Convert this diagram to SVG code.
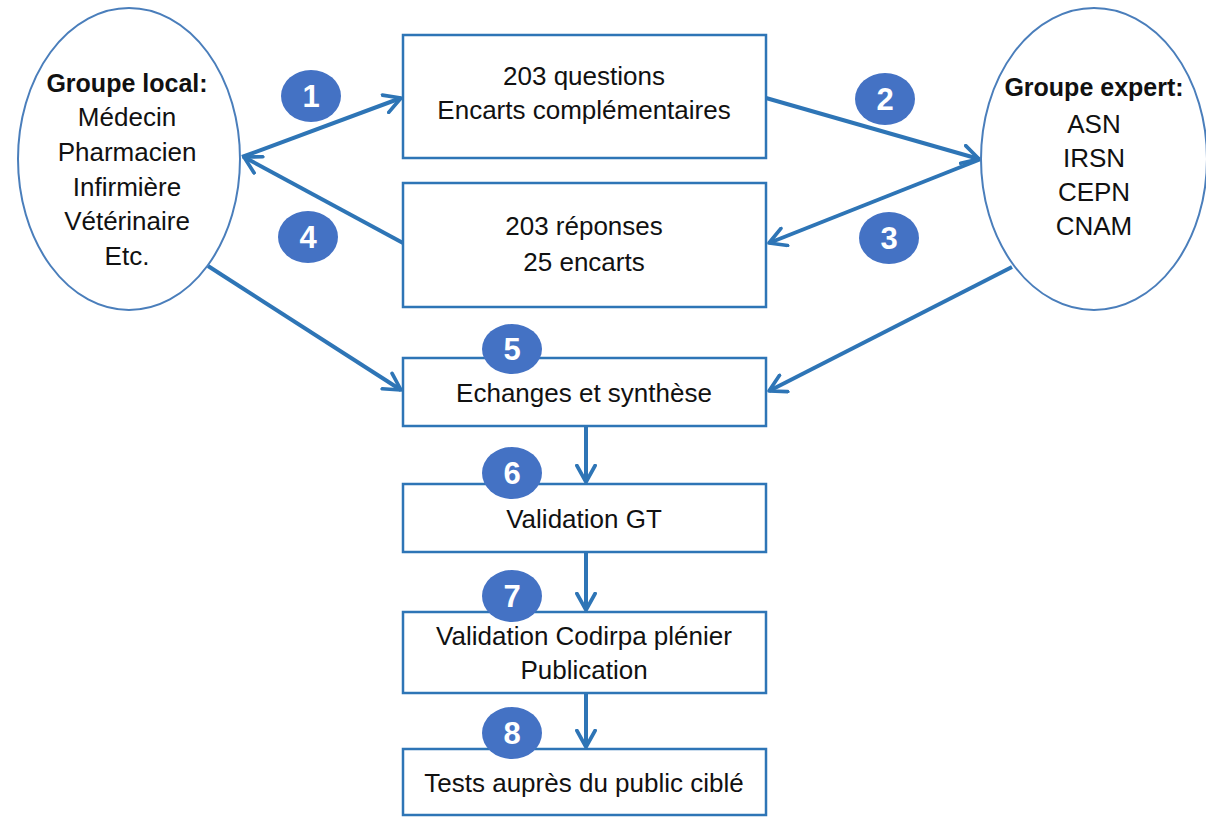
<svg xmlns="http://www.w3.org/2000/svg" width="1206" height="817" viewBox="0 0 1206 817">
<defs>
<style>
.ell{fill:#fff;stroke:#4a7ebb;stroke-width:2}
.box{fill:#fff;stroke:#2e75b6;stroke-width:2.5}
.t{font-family:"Liberation Sans",Arial,sans-serif;font-size:26px;fill:#111;text-anchor:middle}
.b{font-weight:bold;font-size:25px}
.badge{fill:#4472c4}
.bt{font-family:"Liberation Sans",Arial,sans-serif;font-size:31px;font-weight:bold;fill:#fff;text-anchor:middle}
.c{stroke:#2e75b6;stroke-width:4;fill:none;marker-end:url(#ah)}
</style>
<marker id="ah" viewBox="0 0 12 12" refX="10" refY="6" markerWidth="5.5" markerHeight="5.5" orient="auto" markerUnits="strokeWidth">
<path d="M1,1 L10,6 L1,11" fill="none" stroke="#2e75b6" stroke-width="2" stroke-linecap="round" stroke-linejoin="round"/>
</marker>
</defs>
<rect width="1206" height="817" fill="#fff"/>
<g id="connectors">
<line class="c" x1="242" y1="157" x2="401" y2="98"/>
<line class="c" x1="403" y1="243" x2="244" y2="157"/>
<line class="c" x1="766" y1="98" x2="979" y2="159"/>
<line class="c" x1="981" y1="159" x2="769" y2="243"/>
<line class="c" x1="208" y1="266" x2="401" y2="390"/>
<line class="c" x1="1012" y1="267" x2="769" y2="391"/>
<line class="c" x1="586" y1="427" x2="586" y2="482"/>
<line class="c" x1="586" y1="553" x2="586" y2="610"/>
<line class="c" x1="586" y1="694" x2="586" y2="747"/>
</g>
<g id="groupe-local">
<ellipse class="ell" cx="129" cy="159" rx="111" ry="151"/>
<text class="t b" x="127" y="92">Groupe local:</text>
<text class="t" x="127" y="126">Médecin</text>
<text class="t" x="127" y="161">Pharmacien</text>
<text class="t" x="127" y="196">Infirmière</text>
<text class="t" x="127" y="230">Vétérinaire</text>
<text class="t" x="127" y="265">Etc.</text>
</g>
<g id="groupe-expert">
<ellipse class="ell" cx="1094" cy="159" rx="113" ry="151"/>
<text class="t b" x="1094" y="96">Groupe expert:</text>
<text class="t" x="1094" y="133">ASN</text>
<text class="t" x="1094" y="167">IRSN</text>
<text class="t" x="1094" y="201">CEPN</text>
<text class="t" x="1094" y="235">CNAM</text>
</g>
<g id="questions">
<rect class="box" x="403" y="35" width="363" height="123"/>
<text class="t" x="584" y="85">203 questions</text>
<text class="t" x="584" y="119">Encarts complémentaires</text>
</g>
<g id="reponses">
<rect class="box" x="403" y="183" width="363" height="124"/>
<text class="t" x="584" y="235">203 réponses</text>
<text class="t" x="584" y="271">25 encarts</text>
</g>
<g id="echanges">
<rect class="box" x="403" y="358" width="363" height="68"/>
<text class="t" x="584" y="402">Echanges et synthèse</text>
</g>
<g id="validation-gt">
<rect class="box" x="403" y="484" width="363" height="68"/>
<text class="t" x="584" y="528">Validation GT</text>
</g>
<g id="validation-codirpa">
<rect class="box" x="403" y="612" width="363" height="81"/>
<text class="t" x="584" y="645">Validation Codirpa plénier</text>
<text class="t" x="584" y="679">Publication</text>
</g>
<g id="tests">
<rect class="box" x="403" y="749" width="363" height="66"/>
<text class="t" x="584" y="792">Tests auprès du public ciblé</text>
</g>
<g id="badge-1"><ellipse class="badge" cx="311" cy="96" rx="30" ry="26"/><text class="bt" x="311" y="107">1</text></g>
<g id="badge-2"><ellipse class="badge" cx="885" cy="99" rx="30" ry="26"/><text class="bt" x="885" y="110">2</text></g>
<g id="badge-3"><ellipse class="badge" cx="889" cy="238" rx="30" ry="26"/><text class="bt" x="889" y="249">3</text></g>
<g id="badge-4"><ellipse class="badge" cx="308" cy="237" rx="30" ry="26"/><text class="bt" x="308" y="248">4</text></g>
<g id="badge-5"><ellipse class="badge" cx="512" cy="349" rx="30" ry="25"/><text class="bt" x="512" y="360">5</text></g>
<g id="badge-6"><ellipse class="badge" cx="512" cy="473" rx="30" ry="26"/><text class="bt" x="512" y="484">6</text></g>
<g id="badge-7"><ellipse class="badge" cx="512" cy="596" rx="30" ry="26"/><text class="bt" x="512" y="607">7</text></g>
<g id="badge-8"><ellipse class="badge" cx="512" cy="733" rx="30" ry="26"/><text class="bt" x="512" y="744">8</text></g>
</svg>
